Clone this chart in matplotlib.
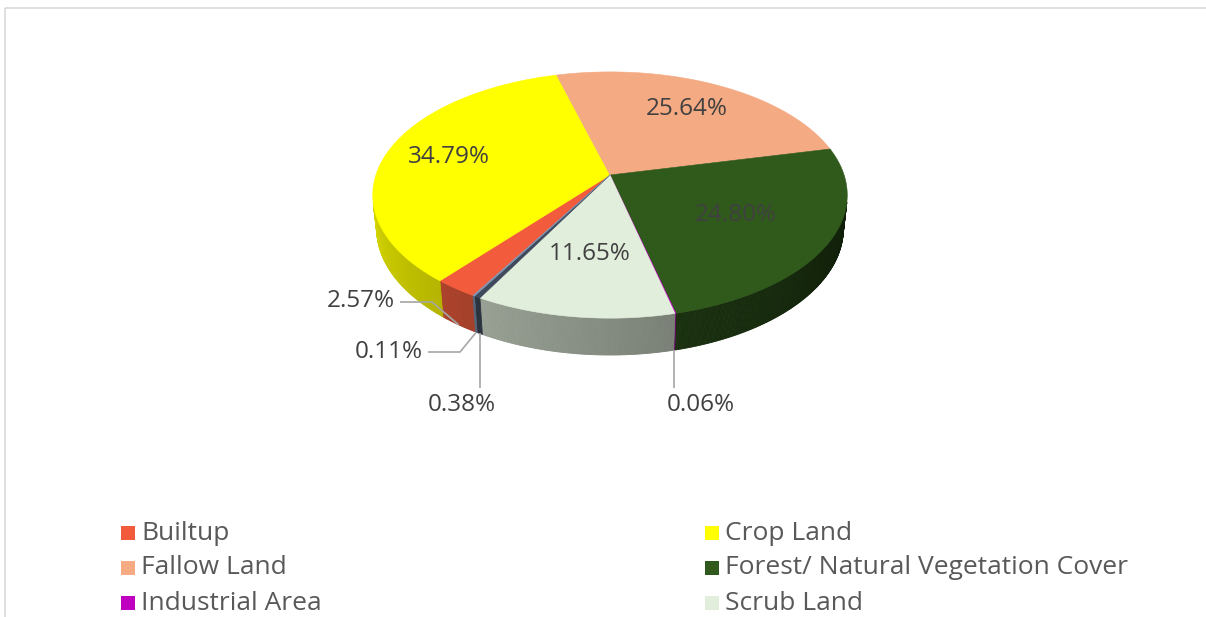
import numpy as np
import matplotlib.pyplot as plt
from matplotlib.collections import PolyCollection
from matplotlib.patches import Polygon, Rectangle

# slices, clockwise in Excel order (last two are cut off in the legend)
names = ["Builtup", "Crop Land", "Fallow Land", "Forest/ Natural Vegetation Cover",
         "Industrial Area", "Scrub Land", None, None]
values = [2.57, 34.79, 25.64, 24.80, 0.06, 11.65, 0.38, 0.11]
colors = ["#F25C3C", "#FFFF00", "#F4AA82", "#305A1C", "#C000C0", "#E2EEDC", "#3E4A5C", "#7F93B0"]

plt.rcParams['font.family'] = ['Open Sans', 'DejaVu Sans']

# 3d view of the pie (perspective camera looking down at the disc)
ELEV = np.radians(30.8)
DIST = 5.28
SCALE = 1236.0
THICK = 0.168
CX, CY = 610.0, 175.0
START = 239.8  # angle of first slice edge (deg, counter-clockwise from +x)

c_e, s_e = np.cos(ELEV), np.sin(ELEV)


def proj(theta, r=1.0, z=0.0):
    t = np.radians(theta)
    x = r * np.cos(t)
    y = r * np.sin(t)
    depth = y * c_e - z * s_e + DIST
    sx = x / depth
    sy = (y * s_e + z * c_e) / depth
    return CX + SCALE * sx, CY - SCALE * sy


def visible(theta):
    return 1 + DIST * c_e * np.sin(np.radians(theta)) < 0


def shade(hexcol, theta):
    th = (theta + 180) % 360 - 180
    f = 0.33 + 0.5 * (-th - 13) / 154.0
    f = min(max(f, 0.3), 0.85)
    rgb = np.array([int(hexcol[i:i + 2], 16) for i in (1, 3, 5)]) / 255.0
    return tuple(rgb * f)


fig = plt.figure(figsize=(12.06, 6.17), dpi=100)
ax = fig.add_axes([0, 0, 1, 1])
ax.set_xlim(0, 1206)
ax.set_ylim(617, 0)
ax.axis('off')

# chart area border
ax.add_patch(Rectangle((5, 8), 1230, 640, fill=False, edgecolor="#D9D9D9", lw=1.2))

bounds = START - np.cumsum([0] + values) * 3.6
mids = (bounds[:-1] + bounds[1:]) / 2

# side walls
quads, qcols = [], []
for i in range(len(values)):
    a0, a1 = bounds[i], bounds[i + 1]
    n = max(int(abs(a0 - a1) / 0.4), 1)
    ts = np.linspace(a0, a1, n + 1)
    for ta, tb in zip(ts[:-1], ts[1:]):
        tm = (ta + tb) / 2
        if not visible(tm):
            continue
        p1 = proj(ta)
        p2 = proj(tb)
        p3 = proj(tb, z=-THICK)
        p4 = proj(ta, z=-THICK)
        quads.append([p1, p2, p3, p4])
        qcols.append(shade(colors[i], tm))
ax.add_collection(PolyCollection(quads, facecolors=qcols, edgecolors=qcols, lw=0.6))

# top faces
for i in range(len(values)):
    a0, a1 = bounds[i], bounds[i + 1]
    n = max(int(abs(a0 - a1) / 0.5), 2)
    ts = np.linspace(a0, a1, n + 1)
    pts = [proj(0, r=0.0)] + [proj(t) for t in ts]
    ax.add_patch(Polygon(pts, closed=True, facecolor=colors[i], edgecolor=colors[i], lw=0.4))

# labels inside the big slices
inside_r = {1: 0.72, 2: 0.7, 3: 0.6, 5: 0.6}
for i, r in inside_r.items():
    x, y = proj(mids[i], r=r)
    ax.text(x, y, f"{values[i]:.2f}%", ha='center', va='center', fontsize=17.5, color="#404040")

# small slices: labels with leader lines
lead_col = "#A6A6A6"
outside = {
    0: ((361, 301), [(400, 302), (432, 302)]),
    7: ((389, 352), [(428, 352), (460, 352)]),
    6: ((462, 405), None),
    4: ((701, 405), None),
}
for i, (pos, path) in outside.items():
    ax_, ay_ = proj(mids[i], z=-THICK)
    if path is None:
        xs, ys = [ax_, ax_], [ay_, 388]
    else:
        xs = [p[0] for p in path] + [ax_]
        ys = [p[1] for p in path] + [ay_]
    ax.plot(xs, ys, color=lead_col, lw=1.2, solid_capstyle='butt')
    ax.text(pos[0], pos[1], f"{values[i]:.2f}%", ha='center', va='center', fontsize=17.5, color="#404040")

# legend, two columns filled row by row (fourth row is cut off)
shown = [i for i in range(len(values)) if names[i]]
for k, i in enumerate(shown):
    row, col = divmod(k, 2)
    lx = 128 if col == 0 else 712
    ly = 533 + row * 35
    ax.scatter([lx], [ly], marker='s', s=90, color=colors[i], linewidths=0)
    ax.text(lx + 13, ly, names[i], ha='left', va='center', fontsize=19, color="#595959")

fig.savefig("out.png", dpi=100)
